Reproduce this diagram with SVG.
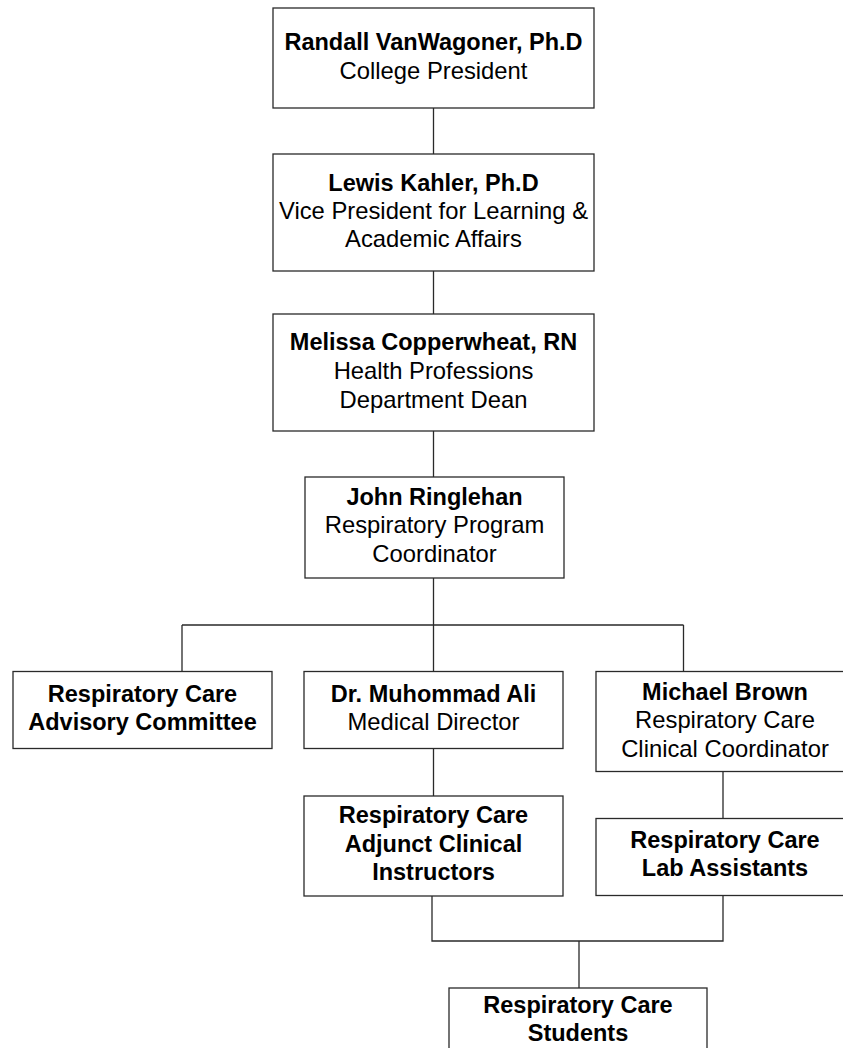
<svg xmlns="http://www.w3.org/2000/svg" width="843" height="1048" viewBox="0 0 843 1048">
<style>
.box{fill:#fff;stroke:#2a2a2a;stroke-width:1.3}
.c{fill:none;stroke:#2a2a2a;stroke-width:1.3}
text{font-family:"Liberation Sans",Arial,Helvetica,sans-serif;font-size:23.8px;fill:#000;text-anchor:middle}
.b{font-weight:bold;font-size:23.5px}
</style>
<rect width="843" height="1048" fill="#fff"/>
<g id="connectors">
<path class="c" d="M433.5 108V154M433.5 271V314M433.5 431V477M433.5 578V625M182 625H683.5M182 625V671.5M433.5 625V671.5M683.5 625V671.5M433.5 748V796M723 771V818.5M432 896V941H723V896M579 941V988"/>
</g>
<g id="president">
<rect class="box" x="273" y="8" width="321" height="100"/>
<text x="433.5" y="50" class="b">Randall VanWagoner, Ph.D</text>
<text x="433.5" y="79">College President</text>
</g>
<g id="vp">
<rect class="box" x="273" y="154" width="321" height="117"/>
<text x="433.5" y="191" class="b">Lewis Kahler, Ph.D</text>
<text x="433.5" y="219">Vice President for Learning &amp;</text>
<text x="433.5" y="247">Academic Affairs</text>
</g>
<g id="dean">
<rect class="box" x="273" y="314" width="321" height="117"/>
<text x="433.5" y="350" class="b">Melissa Copperwheat, RN</text>
<text x="433.5" y="379">Health Professions</text>
<text x="433.5" y="408">Department Dean</text>
</g>
<g id="coordinator">
<rect class="box" x="305" y="477" width="259" height="101"/>
<text x="434.5" y="505" class="b">John Ringlehan</text>
<text x="434.5" y="533">Respiratory Program</text>
<text x="434.5" y="562">Coordinator</text>
</g>
<g id="advisory">
<rect class="box" x="13" y="671.5" width="259" height="77"/>
<text x="142.5" y="702" class="b">Respiratory Care</text>
<text x="142.5" y="730" class="b">Advisory Committee</text>
</g>
<g id="medical-director">
<rect class="box" x="304" y="671.5" width="259" height="77"/>
<text x="433.5" y="702" class="b">Dr. Muhommad Ali</text>
<text x="433.5" y="730">Medical Director</text>
</g>
<g id="clinical-coordinator">
<rect class="box" x="596" y="671.5" width="258" height="100"/>
<text x="725" y="700" class="b">Michael Brown</text>
<text x="725" y="728">Respiratory Care</text>
<text x="725" y="757">Clinical Coordinator</text>
</g>
<g id="adjunct">
<rect class="box" x="304" y="796" width="259" height="100"/>
<text x="433.5" y="823" class="b">Respiratory Care</text>
<text x="433.5" y="852" class="b">Adjunct Clinical</text>
<text x="433.5" y="880" class="b">Instructors</text>
</g>
<g id="lab">
<rect class="box" x="596" y="818.5" width="258" height="77"/>
<text x="725" y="848" class="b">Respiratory Care</text>
<text x="725" y="876" class="b">Lab Assistants</text>
</g>
<g id="students">
<rect class="box" x="449" y="988" width="258" height="80"/>
<text x="578" y="1013" class="b">Respiratory Care</text>
<text x="578" y="1041" class="b">Students</text>
</g>
</svg>
